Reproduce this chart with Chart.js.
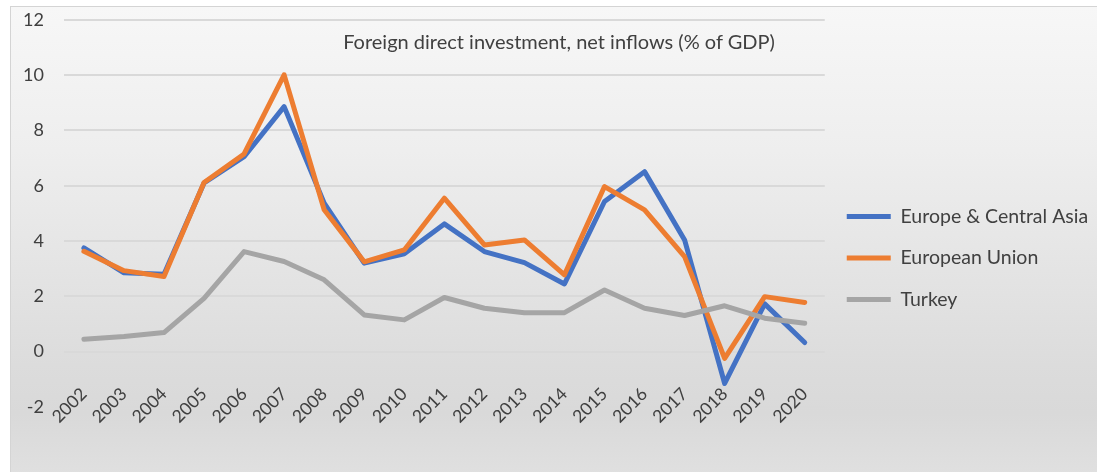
<!DOCTYPE html>
<html>
<head>
<meta charset="utf-8">
<script src="https://cdn.jsdelivr.net/npm/chart.js@4/dist/chart.umd.min.js"></script>
<style>
  html, body { margin:0; padding:0; background:#ffffff; }
  #wrap { position:relative; width:1097px; height:472px; overflow:hidden; }
  #bg { position:absolute; left:10px; top:6px; width:1100px; height:480px;
        border:1px solid #d4d4d4; box-sizing:border-box;
        background:linear-gradient(to bottom, #f7f7f7 0%, #eeeeee 30%, #dcdcdc 75%, #d9d9d9 85%, #e1e1e1 100%); }
  #title { position:absolute; left:0; width:1118px; top:29px; text-align:center;
           font-family:Lato, 'Open Sans', sans-serif; font-size:20px; color:#404040; }
  canvas { position:absolute; left:0; top:0; }
</style>
</head>
<body>
<div id="wrap">
  <div id="bg"></div>
  <canvas id="c" width="1097" height="472"></canvas>
  <div id="title">Foreign direct investment, net inflows (% of GDP)</div>
</div>
<script>
const years = ['2002','2003','2004','2005','2006','2007','2008','2009','2010','2011','2012','2013','2014','2015','2016','2017','2018','2019','2020'];
const europeCentralAsia = [3.75, 2.85, 2.8, 6.1, 7.05, 8.86, 5.37, 3.2, 3.54, 4.62, 3.62, 3.22, 2.45, 5.43, 6.51, 4.04, -1.15, 1.73, 0.33];
const europeanUnion     = [3.63, 2.93, 2.72, 6.12, 7.15, 10.01, 5.13, 3.25, 3.68, 5.55, 3.86, 4.04, 2.78, 5.97, 5.13, 3.44, -0.24, 1.99, 1.78];
const turkey            = [0.45, 0.55, 0.69, 1.93, 3.62, 3.26, 2.60, 1.33, 1.15, 1.96, 1.57, 1.41, 1.41, 2.23, 1.57, 1.31, 1.66, 1.21, 1.03];
const seriesNames = ['Europe & Central Asia', 'European Union', 'Turkey'];
const seriesColors = ['#4472C4', '#ED7D31', '#A5A5A5'];
const yMin = -2, yMax = 12, yStep = 2;

const family = 'Lato, "Open Sans", sans-serif';
const values = [europeCentralAsia, europeanUnion, turkey];

new Chart(document.getElementById('c'), {
  type: 'line',
  data: {
    labels: years,
    datasets: values.map((v, i) => ({
      label: seriesNames[i],
      data: v,
      borderColor: seriesColors[i],
      backgroundColor: seriesColors[i],
      borderWidth: 5,
      pointRadius: 0,
      tension: 0,
      fill: false,
      borderJoinStyle: 'round',
      borderCapStyle: 'round',
      order: 3 - i
    }))
  },
  options: {
    responsive: false,
    animation: false,
    layout: { padding: { left: 14, top: 0, right: 2, bottom: 65 } },
    plugins: {
      tooltip: { enabled: false },
      title: { display: false },
      legend: {
        position: 'right',
        align: 'center',
        title: { display: true, text: ' ', font: { size: 10 }, padding: { top: 97, bottom: 0 } },
        labels: {
          font: { family: family, size: 19.5 },
          color: '#404040',
          boxWidth: 44,
          boxHeight: 5,
          padding: 22,
          generateLabels(chart) {
            return chart.data.datasets.map((ds, i) => ({
              text: ds.label,
              fillStyle: ds.borderColor,
              strokeStyle: ds.borderColor,
              lineWidth: 0,
              hidden: false,
              datasetIndex: i,
              fontColor: '#404040'
            }));
          }
        }
      }
    },
    scales: {
      x: {
        type: 'category',
        offset: true,
        position: { y: 0 },
        grid: { display: true, drawOnChartArea: false, drawTicks: true, tickLength: 26,
                tickColor: 'rgba(0,0,0,0)', color: 'rgba(0,0,0,0)' },
        border: { display: false },
        ticks: { minRotation: 45, maxRotation: 45, autoSkip: false, padding: 6,
                 font: { family: family, size: 17.5 }, color: '#404040' }
      },
      y: {
        min: yMin, max: yMax,
        ticks: { stepSize: yStep, padding: 9, font: { family: family, size: 18 }, color: '#404040' },
        grid: { color: '#d9d9d9', lineWidth: 2, drawTicks: true, tickLength: 11, tickColor: 'rgba(0,0,0,0)' },
        border: { display: false }
      }
    }
  }
});
</script>
</body>
</html>
